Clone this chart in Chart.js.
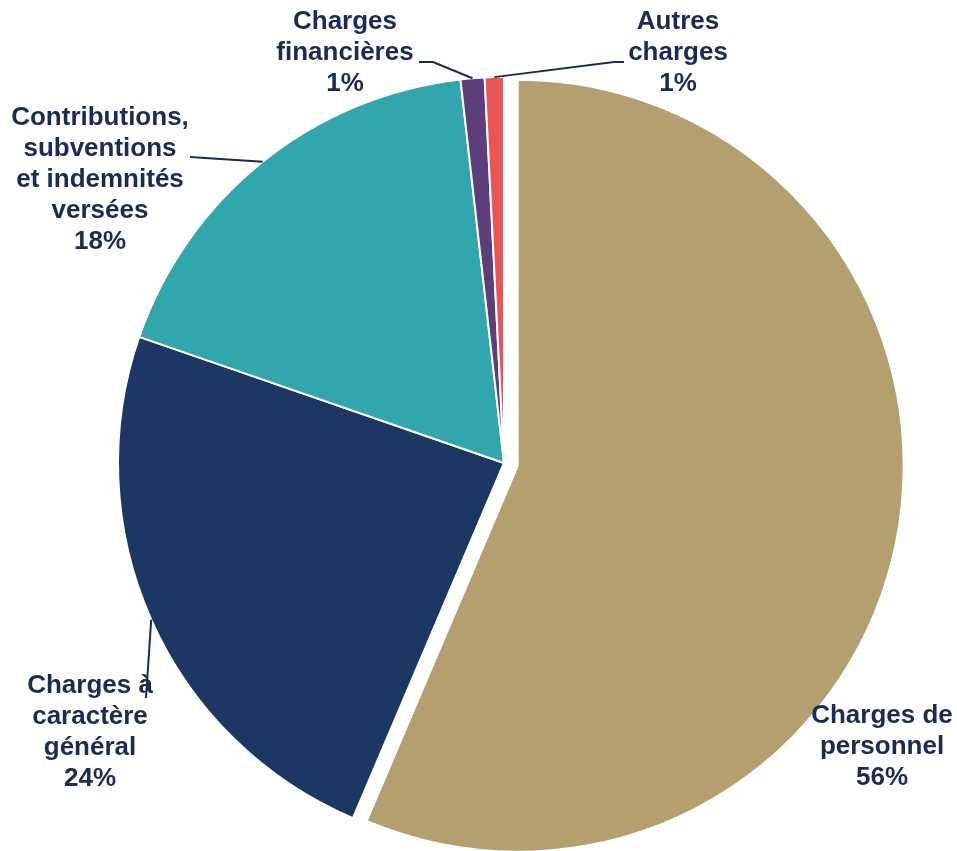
<!DOCTYPE html>
<html>
<head>
<meta charset="utf-8">
<script src="https://cdn.jsdelivr.net/npm/chart.js@4"></script>
<style>
  body { margin: 0; background: #fff; }
</style>
</head>
<body>
<canvas id="pie" width="957" height="851"></canvas>
<script>
// categories and shares (%)
var categories = ['Charges de personnel', 'Charges à caractère général', 'Contributions, subventions et indemnités versées', 'Charges financières', 'Autres charges'];
var values = [56.4, 23.9, 17.9, 1.0, 0.8];
var colors = ['#B3A06E', '#1C3763', '#31A7AD', '#5B3E7A', '#E95455'];

// how each label is broken into lines
var labelLines = [
  ['Charges de', 'personnel'],
  ['Charges à', 'caractère', 'général'],
  ['Contributions,', 'subventions', 'et indemnités', 'versées'],
  ['Charges', 'financières'],
  ['Autres', 'charges']
];

// label placement: text centre x, first line y, leader line end points (null = none)
var labelPos = [
  { x: 882, y: 716, lead: null },
  { x: 90, y: 686, lead: [[146, 698]] },
  { x: 100, y: 118, lead: [[190, 157]] },
  { x: 345, y: 22, lead: [[433, 62], [419, 62]] },
  { x: 678, y: 22, lead: [[614, 62], [624, 62]] }
];

// pull-out distance of each slice, px
var explode = [14, 0, 0, 0, 0];

var textColor = '#1B2B55';

// chart.js' own offset option also grows the radius of big slices,
// so the slice is moved along its bisector here instead
var explodePlugin = {
  id: 'explode',
  afterDatasetUpdate: function(chart, args) {
    args.meta.data.forEach(function(arc, i) {
      var d = explode[i] || 0;
      if (!d) return;
      var mid = (arc.startAngle + arc.endAngle) / 2;
      arc.x += Math.cos(mid) * d;
      arc.y += Math.sin(mid) * d;
    });
  }
};

var labelPlugin = {
  id: 'sliceLabels',
  afterDraw: function(chart) {
    var ctx = chart.ctx;
    var arcs = chart.getDatasetMeta(0).data;
    var total = values.reduce(function(a, b) { return a + b; }, 0);
    ctx.save();
    ctx.strokeStyle = textColor;
    ctx.lineWidth = 2;
    arcs.forEach(function(arc, i) {
      var p = labelPos[i];
      if (p.lead) {
        var mid = (arc.startAngle + arc.endAngle) / 2;
        var r = arc.outerRadius;
        ctx.beginPath();
        ctx.moveTo(arc.x + Math.cos(mid) * r, arc.y + Math.sin(mid) * r);
        p.lead.forEach(function(pt) { ctx.lineTo(pt[0], pt[1]); });
        ctx.stroke();
      }
    });
    ctx.fillStyle = textColor;
    ctx.font = 'bold 26px "Liberation Sans", Arial, sans-serif';
    ctx.textAlign = 'center';
    ctx.textBaseline = 'middle';
    labelLines.forEach(function(lines, i) {
      var p = labelPos[i];
      var all = lines.concat([Math.round(values[i] / total * 100) + '%']);
      all.forEach(function(t, k) {
        ctx.fillText(t, p.x, p.y + k * 31);
      });
    });
    ctx.restore();
  }
};

new Chart(document.getElementById('pie'), {
  type: 'pie',
  data: {
    labels: categories,
    datasets: [{
      data: values,
      backgroundColor: colors,
      borderColor: '#ffffff',
      borderWidth: 2
    }]
  },
  options: {
    responsive: false,
    animation: false,
    radius: 386,
    layout: { padding: { left: 51, right: 0, top: 75, bottom: 0 } },
    plugins: {
      legend: { display: false },
      tooltip: { enabled: false }
    }
  },
  plugins: [explodePlugin, labelPlugin]
});
</script>
</body>
</html>
